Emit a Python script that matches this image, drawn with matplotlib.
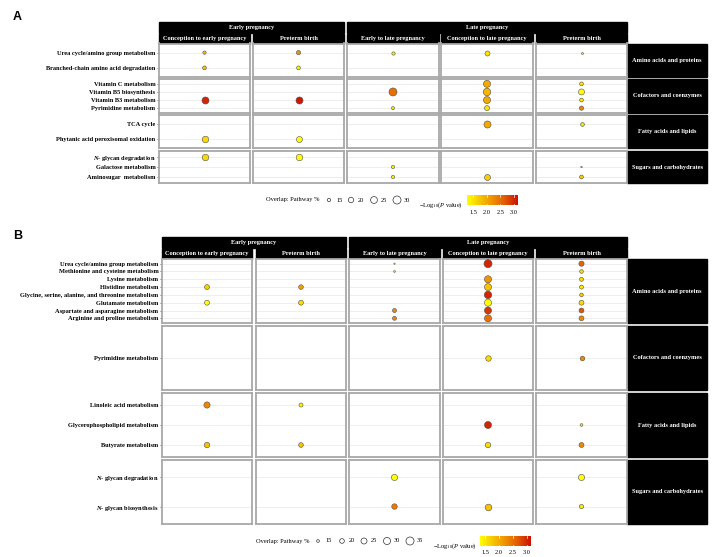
import numpy as np
import pandas as pd
import matplotlib
matplotlib.use('Agg')
import matplotlib.pyplot as plt
from matplotlib.colors import LinearSegmentedColormap
from matplotlib.patches import Rectangle

plt.rcParams['font.family'] = ['Liberation Serif', 'DejaVu Serif']
plt.rcParams['mathtext.fontset'] = 'custom'
plt.rcParams['mathtext.rm'] = 'Liberation Serif'
plt.rcParams['mathtext.it'] = 'Liberation Serif:italic'
plt.rcParams['mathtext.bf'] = 'Liberation Serif:italic:bold'

# ---- data ----
periods = ['Early pregnancy', 'Late pregnancy']
columns = ['Conception to early pregnancy', 'Preterm birth',
           'Early to late pregnancy', 'Conception to late pregnancy', 'Preterm birth']
groups = ['Amino acids and proteins', 'Cofactors and coenzymes',
          'Fatty acids and lipids', 'Sugars and carbohydrates']

A_pathways = [
    ['Urea cycle/amino group metabolism', 'Branched-chain amino acid degradation'],
    ['Vitamin C metabolism', 'Vitamin B5 biosynthesis', 'Vitamin B3 metabolism', 'Pyrimidine metabolism'],
    ['TCA cycle', 'Phytanic acid peroxisomal oxidation'],
    [r'$\mathbf{N}$- glycan degradation', 'Galactose metabolism', 'Aminosugar  metabolism'],
]
B_pathways = [
    ['Urea cycle/amino group metabolism', 'Methionine and cysteine metabolism', 'Lysine metabolism',
     'Histidine metabolism', 'Glycine, serine, alanine, and threonine metabolism', 'Glutamate metabolism',
     'Aspartate and asparagine metabolism', 'Arginine and proline metabolism'],
    ['Pyrimidine metabolism'],
    ['Linoleic acid metabolism', 'Glycerophospholipid metabolism', 'Butyrate metabolism'],
    [r'$\mathbf{N}$- glycan degradation', r'$\mathbf{N}$- glycan biosynthesis'],
]

# (column, pathway, overlap %, -log10 P)
A_hits = [
    (0, 'Urea cycle/amino group metabolism', 15, 1.8),
    (0, 'Branched-chain amino acid degradation', 16, 1.8),
    (0, 'Vitamin B3 metabolism', 26, 3.0),
    (0, 'Phytanic acid peroxisomal oxidation', 24, 1.6),
    (0, r'$\mathbf{N}$- glycan degradation', 24, 1.6),
    (1, 'Urea cycle/amino group metabolism', 17, 2.2),
    (1, 'Branched-chain amino acid degradation', 16, 1.4),
    (1, 'Vitamin B3 metabolism', 26, 3.1),
    (1, 'Phytanic acid peroxisomal oxidation', 22, 1.3),
    (1, r'$\mathbf{N}$- glycan degradation', 24, 1.3),
    (2, 'Urea cycle/amino group metabolism', 15, 1.4),
    (2, 'Vitamin B5 biosynthesis', 30, 2.5),
    (2, 'Pyrimidine metabolism', 14.5, 1.5),
    (2, 'Galactose metabolism', 15, 1.4),
    (2, 'Aminosugar  metabolism', 15, 1.4),
    (3, 'Urea cycle/amino group metabolism', 19, 1.5),
    (3, 'Vitamin C metabolism', 26, 2.0),
    (3, 'Vitamin B5 biosynthesis', 28, 1.9),
    (3, 'Vitamin B3 metabolism', 26, 2.0),
    (3, 'Pyrimidine metabolism', 19, 1.5),
    (3, 'TCA cycle', 26, 2.0),
    (3, 'Aminosugar  metabolism', 22, 1.7),
    (4, 'Urea cycle/amino group metabolism', 13, 1.5),
    (4, 'Vitamin C metabolism', 16, 1.5),
    (4, 'Vitamin B5 biosynthesis', 22, 1.3),
    (4, 'Vitamin B3 metabolism', 16, 1.5),
    (4, 'Pyrimidine metabolism', 17, 2.3),
    (4, 'TCA cycle', 16, 1.5),
    (4, 'Galactose metabolism', 12.5, 1.5),
    (4, 'Aminosugar  metabolism', 16, 1.7),
]
B_hits = [
    (0, 'Histidine metabolism', 21, 1.7),
    (0, 'Glutamate metabolism', 21, 1.3),
    (0, 'Linoleic acid metabolism', 26, 2.3),
    (0, 'Butyrate metabolism', 23, 1.8),
    (1, 'Histidine metabolism', 20, 2.1),
    (1, 'Glutamate metabolism', 21, 1.6),
    (1, 'Linoleic acid metabolism', 18, 1.4),
    (1, 'Butyrate metabolism', 20, 1.8),
    (2, 'Urea cycle/amino group metabolism', 13, 1.5),
    (2, 'Methionine and cysteine metabolism', 13.5, 1.6),
    (2, 'Aspartate and asparagine metabolism', 18, 2.3),
    (2, 'Arginine and proline metabolism', 18, 2.3),
    (2, r'$\mathbf{N}$- glycan degradation', 26, 1.3),
    (2, r'$\mathbf{N}$- glycan biosynthesis', 23, 2.4),
    (3, 'Urea cycle/amino group metabolism', 35, 3.0),
    (3, 'Lysine metabolism', 30, 2.2),
    (3, 'Histidine metabolism', 30, 1.8),
    (3, 'Glycine, serine, alanine, and threonine metabolism', 32, 3.0),
    (3, 'Glutamate metabolism', 30, 1.3),
    (3, 'Aspartate and asparagine metabolism', 30, 2.9),
    (3, 'Arginine and proline metabolism', 30, 2.5),
    (3, 'Pyrimidine metabolism', 23, 1.6),
    (3, 'Glycerophospholipid metabolism', 30, 3.0),
    (3, 'Butyrate metabolism', 23, 1.6),
    (3, r'$\mathbf{N}$- glycan biosynthesis', 28, 1.8),
    (4, 'Urea cycle/amino group metabolism', 22, 2.6),
    (4, 'Methionine and cysteine metabolism', 17, 1.6),
    (4, 'Lysine metabolism', 18, 1.6),
    (4, 'Histidine metabolism', 18, 1.5),
    (4, 'Glycine, serine, alanine, and threonine metabolism', 17, 1.7),
    (4, 'Glutamate metabolism', 21, 1.6),
    (4, 'Aspartate and asparagine metabolism', 21, 2.7),
    (4, 'Arginine and proline metabolism', 21, 2.3),
    (4, 'Pyrimidine metabolism', 20, 2.3),
    (4, 'Glycerophospholipid metabolism', 15, 1.5),
    (4, 'Butyrate metabolism', 21, 2.3),
    (4, r'$\mathbf{N}$- glycan degradation', 26, 1.3),
    (4, r'$\mathbf{N}$- glycan biosynthesis', 19, 1.5),
]
A_size_breaks = [15, 20, 25, 30]
B_size_breaks = [15, 20, 25, 30, 35]
color_breaks = [1.5, 2.0, 2.5, 3.0]
A_color_lim = (1.28, 3.15)
B_color_lim = (1.32, 3.14)

# ---- layout (pixels) ----
W, H = 724, 557
cmap = LinearSegmentedColormap.from_list(
    'yr', ['#FFFF00', '#F7C600', '#F09000', '#E05A00', '#CC1000'])
FS = 4.6

fig = plt.figure(figsize=(W / 100, H / 100), dpi=100)
ov = fig.add_axes([0, 0, 1, 1])
ov.set_xlim(0, W)
ov.set_ylim(H, 0)
ov.axis('off')


def px_ax(x0, x1, y0, y1):
    return fig.add_axes([x0 / W, 1 - y1 / H, (x1 - x0) / W, (y1 - y0) / H])


def size_a(p):
    d = np.sqrt(np.clip((np.asarray(p, float) - 11.9) * 3.54, 1.5, None))
    return (d * 0.72) ** 2


def size_b(p):
    d = np.sqrt(np.clip((np.asarray(p, float) - 12.4) * 2.84, 1.5, None))
    return (d * 0.72) ** 2


def panel(hits, pathways, xcols, yrows, top, size_fn, clim):
    df = pd.DataFrame(hits, columns=['col', 'pathway', 'overlap', 'logp'])
    # strips on top
    ov.add_patch(Rectangle((xcols[0][0], top), xcols[1][1] - xcols[0][0], 11, color='black'))
    ov.add_patch(Rectangle((xcols[2][0], top), xcols[4][1] - xcols[2][0], 11, color='black'))
    ov.text((xcols[0][0] + xcols[1][1]) / 2, top + 5.5, periods[0], color='white',
            fontsize=FS, fontweight='bold', ha='center', va='center')
    ov.text((xcols[2][0] + xcols[4][1]) / 2, top + 5.5, periods[1], color='white',
            fontsize=FS, fontweight='bold', ha='center', va='center')
    for ci, (x0, x1) in enumerate(xcols):
        ov.add_patch(Rectangle((x0, top + 11.5), x1 - x0, yrows[0][0] - top - 11.5, color='black'))
        ov.text((x0 + x1) / 2, (top + 11.5 + yrows[0][0]) / 2, columns[ci], color='white',
                fontsize=FS, fontweight='bold', ha='center', va='center')
    for gi, paths in enumerate(pathways):
        y0, y1 = yrows[gi]
        n = len(paths)
        ov.add_patch(Rectangle((627, y0), 80, y1 - y0, color='black'))
        ov.text(667, (y0 + y1) / 2, groups[gi], color='white', fontsize=FS,
                fontweight='bold', ha='center', va='center')
        for ci, (x0, x1) in enumerate(xcols):
            ax = px_ax(x0, x1, y0, y1)
            sub = df[(df['col'] == ci) & df['pathway'].isin(paths)]
            ys = [paths.index(p) + 1 for p in sub['pathway']]
            ax.scatter(np.ones(len(sub)), ys, s=size_fn(sub['overlap']), c=sub['logp'],
                       cmap=cmap, vmin=clim[0], vmax=clim[1], edgecolors='#505050',
                       linewidths=0.4, zorder=3)
            ax.set_xlim(0.4, 1.6)
            ax.set_ylim(n + 0.6, 0.4)
            ax.set_xticks([])
            ax.set_yticks(range(1, n + 1))
            ax.yaxis.grid(True, color='#EBEBEB', lw=0.6)
            ax.set_axisbelow(True)
            for sp in ax.spines.values():
                sp.set_color('#A8A8A8')
                sp.set_linewidth(1.3)
            if ci == 0:
                ax.set_yticklabels(paths, fontsize=FS, fontweight='bold')
                ax.tick_params(axis='y', length=1.8, width=0.5, color='#333333', pad=0.8)
            else:
                ax.set_yticklabels([])
                ax.tick_params(axis='y', length=0)


def legend(y, title_x, circ_x, breaks, size_fn, log_x, bar_x, clim):
    ov.text(title_x, y, 'Overlap: Pathway %', fontsize=FS, ha='left', va='center')
    ov.scatter(circ_x, [y] * len(circ_x), s=size_fn(breaks), facecolors='white',
               edgecolors='#333333', linewidths=0.5)
    for cx, b in zip(circ_x, breaks):
        ov.text(cx + 7, y, str(b), fontsize=FS, ha='left', va='center')
    ov.text(log_x, y + 5, r'$\mathregular{-Log_{10}(}\mathit{P}\mathregular{\ value)}$',
            fontsize=FS, ha='left', va='center')
    bx0, bx1 = bar_x
    ov.imshow(np.linspace(0, 1, 256)[None, :], cmap=cmap, aspect='auto',
              extent=[bx0, bx1, y + 5, y - 5], zorder=2)
    for v in color_breaks:
        xv = bx0 + (v - clim[0]) / (clim[1] - clim[0]) * (bx1 - bx0)
        ov.plot([xv, xv], [y - 5, y - 3.5], color='white', lw=0.5, zorder=3)
        ov.plot([xv, xv], [y + 3.5, y + 5], color='white', lw=0.5, zorder=3)
        ov.text(xv, y + 12, f'{v:.1f}', fontsize=FS, ha='center', va='center')


panel(A_hits, A_pathways,
      [(159, 250), (253, 344), (347, 439), (441, 533), (536, 627)],
      [(43.5, 77), (79, 113), (115, 148), (151, 183)], 22, size_a, A_color_lim)
panel(B_hits, B_pathways,
      [(162, 252), (256, 346), (349, 440), (443, 533), (536, 627)],
      [(259, 323), (326, 390), (393, 457), (460, 524)], 237, size_b, B_color_lim)

legend(200, 266, [329, 351, 374, 397], A_size_breaks, size_a, 419, (467, 518), A_color_lim)
legend(541, 256, [318, 342, 364, 387, 410], B_size_breaks, size_b, 433, (480, 531), B_color_lim)

ov.set_xlim(0, W)
ov.set_ylim(H, 0)
ov.text(13, 17, 'A', fontsize=9, fontweight='bold', family='Liberation Sans', va='center')
ov.text(13, 236, 'B', fontsize=9, fontweight='bold', family='Liberation Sans', va='center')

fig.savefig('out.png', dpi=100)
